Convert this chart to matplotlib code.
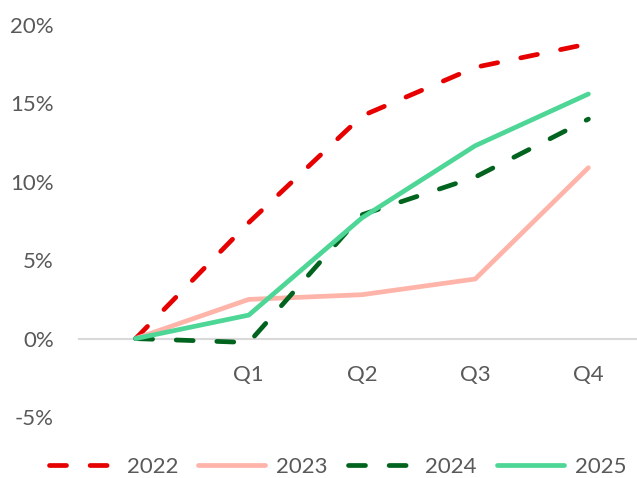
import matplotlib.pyplot as plt

plt.rcParams['font.family'] = ['Lato', 'DejaVu Sans']

categories = ['', 'Q1', 'Q2', 'Q3', 'Q4']
years = ['2022', '2023', '2024', '2025']
values = {
    '2022': [0, 7.4, 14.2, 17.3, 18.8],
    '2023': [0, 2.5, 2.8, 3.8, 10.9],
    '2024': [0, -0.25, 7.9, 10.3, 14.0],
    '2025': [0, 1.5, 7.7, 12.3, 15.6],
}
colors = {'2022': '#E60000', '2023': '#FFB4AA', '2024': '#00641E', '2025': '#4DD696'}
dashed = {'2022': True, '2023': False, '2024': True, '2025': False}

fig = plt.figure(figsize=(6.37, 4.78), dpi=100)
ax = fig.add_axes([79 / 637, 1 - 417 / 478, (645 - 79) / 637, (417 - 25) / 478])

x = list(range(len(categories)))
for y in years:
    ls = (0, (3.6, 5.0)) if dashed[y] else '-'
    ax.plot(x, values[y], color=colors[y], lw=3.4, linestyle=ls,
            dash_capstyle='round', solid_capstyle='round', label=y)

ax.set_xlim(-0.5, 4.5)
ax.set_ylim(-5, 20)
ax.set_yticks([-5, 0, 5, 10, 15, 20])
ax.set_yticklabels([f'{t}%' for t in [-5, 0, 5, 10, 15, 20]])
ax.set_xticks(x)
ax.set_xticklabels(categories)

for s in ['top', 'right', 'left']:
    ax.spines[s].set_visible(False)
ax.spines['bottom'].set_position(('data', 0))
ax.spines['bottom'].set_color('#D9D9D9')
ax.spines['bottom'].set_linewidth(1.5)
ax.spines['bottom'].set_zorder(0)
ax.tick_params(axis='both', length=0, labelsize=16, labelcolor='#595959')
ax.tick_params(axis='y', pad=18)
ax.tick_params(axis='x', pad=19)

fig.legend(loc='center', bbox_to_anchor=(0.53, 1 - 467 / 478), ncol=4, frameon=False,
           fontsize=16, labelcolor='#595959', handlelength=3.0, handletextpad=0.5,
           columnspacing=0.9)

fig.savefig('out.png', dpi=100)
